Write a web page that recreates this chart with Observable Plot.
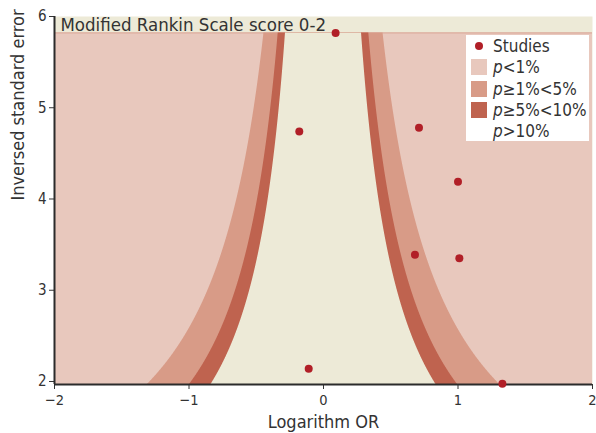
<!DOCTYPE html>
<html>
<head>
<meta charset="utf-8">
<script src="https://cdn.jsdelivr.net/npm/d3@7"></script>
<script src="https://cdn.jsdelivr.net/npm/@observablehq/plot@0.6"></script>
<style>
  html, body { margin: 0; padding: 0; background: #fff; }
  #wrap { position: relative; width: 596px; height: 433px; font-family: "Liberation Sans Narrow", "Arial Narrow", "DejaVu Sans Condensed", sans-serif; }
  #legend { position: absolute; left: 466px; top: 35px; width: 123px; height: 106px; background: #fff; color: #333; font-size: 17px; }
  .row { position: absolute; left: 0; height: 21px; display: flex; align-items: center; }
  .sw { width: 16px; height: 16px; margin-left: 5px; margin-right: 6px; }
  .dot { width: 8px; height: 8px; border-radius: 50%; background: #b11f27; margin-left: 9px; margin-right: 10px; }
  .blank { width: 16px; height: 16px; margin-left: 5px; margin-right: 6px; }
</style>
</head>
<body>
<div id="wrap"></div>
<script>
// Study data (log OR, inverse SE)
const studyLogOR = [0.09, -0.18, 0.71, 1.00, 0.68, 1.01, -0.11, 1.33];
const studyInvSE = [5.82, 4.74, 4.78, 4.19, 3.39, 3.35, 2.14, 1.975];
// Critical z values of contours (p = 1%, 5%, 10%)
const zCrit = [2.576, 1.96, 1.645];
const bandColors = ["#d89b87", "#bf634f", "#edead7"];
const xTicks = [-2, -1, 0, 1, 2];
const yTicks = [2, 3, 4, 5, 6];
const legendLabels = ["Studies", "p<1%", "p≥1%<5%", "p≥5%<10%", "p>10%"];

const yMin = 1.967, yMax6 = 6;
const topY = d3.max(studyInvSE);
const studies = studyLogOR.map((x, i) => ({x, y: studyInvSE[i]}));
const ys = d3.range(yMin, topY, 0.005).concat([topY]);

const bands = zCrit.map((z, i) => ys.map(y => ({y, x1: -z / y, x2: z / y, band: i})));

const font = '"Liberation Sans Narrow", "Arial Narrow", "DejaVu Sans Condensed", sans-serif';

const plot = Plot.plot({
  width: 596,
  height: 433,
  marginLeft: 54,
  marginRight: 4,
  marginTop: 16,
  marginBottom: 49,
  style: {fontFamily: font, color: "#333", background: "transparent"},
  x: {domain: [-2, 2]},
  y: {domain: [yMin, yMax6]},
  marks: [
    Plot.frame({fill: "#edead7", stroke: null}),
    Plot.rect([{}], {x1: -2, x2: 2, y1: yMin, y2: topY, fill: "#e8c8bd"}),
    Plot.ruleY([topY], {x1: -2, x2: 2, stroke: "#d9a594", strokeWidth: 1}),
    ...bands.map((b, i) => Plot.areaX(b, {y: "y", x1: "x1", x2: "x2", fill: bandColors[i], curve: "linear"})),
    Plot.axisX({ticks: xTicks, tickSize: 5, tickPadding: 5, fontSize: 14.5, label: null, tickFormat: d => d < 0 ? "−" + Math.abs(d) : String(d), stroke: "#333"}),
    Plot.axisY({ticks: yTicks, tickSize: 5, tickPadding: 3, fontSize: 15, label: null, tickFormat: d => String(d), stroke: "#333"}),
    Plot.ruleY([yMin], {stroke: "#2b2b2b", strokeWidth: 2}),
    Plot.ruleX([-2], {y1: yMin, y2: yMax6, stroke: "#2b2b2b", strokeWidth: 2}),
    Plot.dot(studies, {x: "x", y: "y", r: 4, fill: "#b11f27", stroke: null}),
    Plot.text(["Modified Rankin Scale score 0-2"], {frameAnchor: "top-left", dx: 6, dy: 9, textAnchor: "start", lineAnchor: "middle", fontSize: 18.5, fill: "#333"}),
    Plot.text(["Logarithm OR"], {frameAnchor: "bottom", dy: 38, lineAnchor: "middle", fontSize: 18, fill: "#333"}),
    Plot.text(["Inversed standard error"], {frameAnchor: "left", dx: -36, rotate: -90, lineAnchor: "middle", fontSize: 18, fill: "#333"})
  ]
});

const wrap = document.getElementById("wrap");
wrap.appendChild(plot);

const legend = document.createElement("div");
legend.id = "legend";
const swatchColors = [null, "#e8c8bd", "#d89b87", "#bf634f", null];
const rowTops = [0, 21.5, 43, 64.5, 85];
legendLabels.forEach((lab, i) => {
  const row = document.createElement("div");
  row.className = "row";
  row.style.top = rowTops[i] + "px";
  const mark = document.createElement("div");
  if (i === 0) mark.className = "dot";
  else if (swatchColors[i]) { mark.className = "sw"; mark.style.background = swatchColors[i]; }
  else mark.className = "blank";
  row.appendChild(mark);
  const t = document.createElement("span");
  if (lab.startsWith("p")) {
    t.innerHTML = "<i>p</i>" + lab.slice(1);
  } else t.textContent = lab;
  row.appendChild(t);
  legend.appendChild(row);
});
wrap.appendChild(legend);
</script>
</body>
</html>
